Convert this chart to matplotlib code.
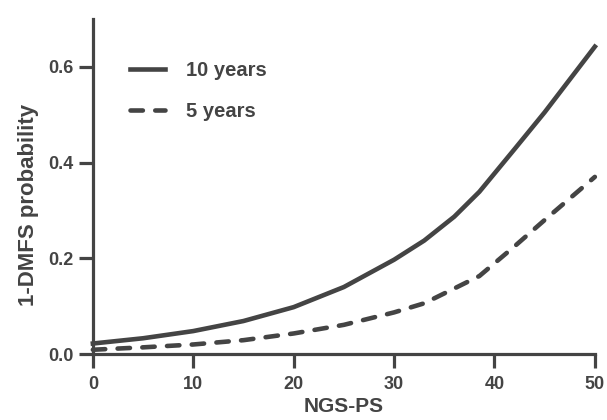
import numpy as np
import matplotlib
matplotlib.use('Agg')
import matplotlib.pyplot as plt

plt.rcParams['font.family'] = ['Liberation Sans', 'DejaVu Sans']
plt.rcParams['font.weight'] = 'bold'

col = '#444444'

ngs = [0, 5, 10, 15, 20, 25, 30, 33, 36, 38.5, 42, 45, 50]
p10 = [0.022, 0.033, 0.048, 0.069, 0.098, 0.14, 0.197, 0.237, 0.287, 0.339, 0.428, 0.505, 0.642]
p5 = [0.009, 0.014, 0.020, 0.029, 0.043, 0.061, 0.087, 0.106, 0.137, 0.163, 0.225, 0.28, 0.37]

fig = plt.figure(figsize=(6.07, 4.2), dpi=100)
ax = fig.add_axes([0.153, 0.157, 0.827, 0.798])

ax.plot(ngs, p10, color=col, linewidth=3.3, label='10 years', clip_on=False)
ax.plot(ngs, p5, color=col, linewidth=3.3, linestyle=(0, (2.7, 2.7)), dash_capstyle='round',
        label='5 years', clip_on=False)

ax.set_xlim(0, 50)
ax.set_ylim(0, 0.7)
ax.set_xticks([0, 10, 20, 30, 40, 50])
ax.set_yticks([0.0, 0.2, 0.4, 0.6])
ax.set_yticklabels(['0.0', '0.2', '0.4', '0.6'])

for s in ['top', 'right']:
    ax.spines[s].set_visible(False)
for s in ['left', 'bottom']:
    ax.spines[s].set_linewidth(2.3)
    ax.spines[s].set_color(col)
ax.tick_params(colors=col, width=2.3, length=10, labelsize=13)
ax.tick_params(axis='x', pad=6)
ax.tick_params(axis='y', pad=4)
for lab in ax.get_xticklabels() + ax.get_yticklabels():
    lab.set_fontweight('bold')

ax.set_xlabel('NGS-PS', fontsize=15, fontweight='bold', color=col, labelpad=2.5)
ax.set_ylabel('1-DMFS probability', fontsize=16, fontweight='bold', color=col)
ax.yaxis.set_label_coords(-0.108, 0.445)

leg = ax.legend(loc='upper left', bbox_to_anchor=(0.074, 0.875), frameon=False, fontsize=14.5,
                borderaxespad=0, borderpad=0,
                handlelength=1.75, handletextpad=1.05, labelspacing=1.1)
for t in leg.get_texts():
    t.set_color(col)
    t.set_fontweight('bold')

fig.savefig('out.png', dpi=100)
